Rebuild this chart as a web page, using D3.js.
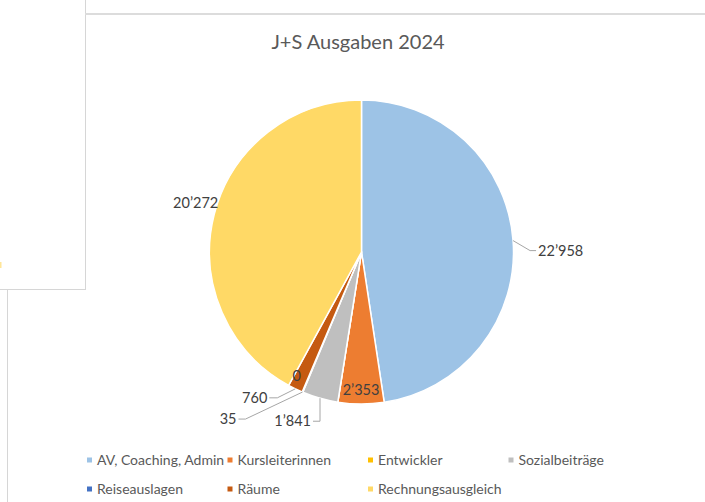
<!DOCTYPE html>
<html>
<head>
<meta charset="utf-8">
<script src="https://cdn.jsdelivr.net/npm/d3@7"></script>
<style>
  body { margin: 0; background: #fff; }
  svg { display: block; font-family: Lato, "Liberation Sans", sans-serif; }
</style>
</head>
<body>
<svg id="chart" width="705" height="502"></svg>
<script>
// chart data
var categories = ["AV, Coaching, Admin", "Kursleiterinnen", "Entwickler", "Sozialbeiträge",
                  "Reiseauslagen", "Räume", "Rechnungsausgleich"];
var values = [22958, 2353, 0, 1841, 35, 760, 20272];
var colors = ["#9DC3E6", "#ED7D31", "#FFC000", "#BFBFBF", "#4472C4", "#C55A11", "#FFD966"];
var title = "J+S Ausgaben 2024";

// where each data label goes, relative to the slice's outer mid point
var labelPlacement = [
    {leader: true, ex: 17, ey: 10, hx: 6},
    {inside: 0.91},
    {dx: -41, dy: -26},
    {leader: true, ex: 0, ey: 23, hx: -7},
    {leader: true, ex: -57, ey: 27, hx: -7},
    {leader: true, ex: -18, ey: 9, hx: -8},
    {dx: 4, dy: -11, anchor: "end"}
];

var svg = d3.select("#chart");
var cx = 361.5, cy = 252, radius = 152;

// bits of the spreadsheet around the chart
var frame = svg.append("g").attr("stroke", "#d6d6d6").attr("fill", "none");
frame.append("line").attr("x1", 85.5).attr("y1", 0).attr("x2", 85.5).attr("y2", 290);
frame.append("line").attr("x1", 0).attr("y1", 289.5).attr("x2", 86).attr("y2", 289.5);
frame.append("line").attr("x1", 85).attr("y1", 14).attr("x2", 705).attr("y2", 14)
    .attr("stroke-width", 2).attr("stroke", "#dcdcdc");
frame.append("line").attr("x1", 7.5).attr("y1", 290).attr("x2", 7.5).attr("y2", 502);
svg.append("rect").attr("x", 0).attr("y", 262).attr("width", 1.5).attr("height", 6).attr("fill", "#ffe699");

svg.append("text")
    .attr("x", 358)
    .attr("y", 49)
    .attr("text-anchor", "middle")
    .attr("font-size", 20)
    .attr("fill", "#595959")
    .text(title);

var color = d3.scaleOrdinal().domain(categories).range(colors);
var fmt = d3.formatLocale({decimal: ".", thousands: "\u2019", grouping: [3], currency: ["", ""]}).format(",d");

var pie = d3.pie().sort(null).value(function (d) { return d.value; });
var data = categories.map(function (c, i) { return {name: c, value: values[i], place: labelPlacement[i]}; });
var arcs = pie(data);
var arc = d3.arc().innerRadius(0).outerRadius(radius);

var g = svg.append("g").attr("transform", "translate(" + cx + "," + cy + ")");

g.selectAll("path.slice")
    .data(arcs)
    .enter()
    .append("path")
    .attr("class", "slice")
    .attr("d", arc)
    .attr("fill", function (d) { return color(d.data.name); })
    .attr("stroke", "#fff")
    .attr("stroke-width", 1.5)
    .attr("stroke-linejoin", "round");

// outer point at the middle angle of a slice
function outerPoint(d, r) {
    var a = (d.startAngle + d.endAngle) / 2;
    return [Math.sin(a) * r, -Math.cos(a) * r];
}

var labels = g.append("g");
arcs.forEach(function (d) {
    var p = d.data.place;
    var o = outerPoint(d, radius);
    var tx, ty, anchor;
    if (p.inside) {
        var q = outerPoint(d, radius * p.inside);
        tx = q[0]; ty = q[1]; anchor = "middle";
    } else if (p.leader) {
        var elbow = [o[0] + p.ex, o[1] + p.ey];
        var end = [elbow[0] + p.hx, elbow[1]];
        labels.append("path")
            .attr("d", d3.line()([o, elbow, end]))
            .attr("fill", "none")
            .attr("stroke", "#a6a6a6")
            .attr("stroke-width", 1);
        tx = end[0] + (p.hx > 0 ? 2 : -2);
        ty = end[1];
        anchor = p.hx > 0 ? "start" : "end";
    } else {
        tx = o[0] + p.dx; ty = o[1] + p.dy; anchor = p.anchor || "middle";
    }
    labels.append("text")
        .attr("x", tx)
        .attr("y", ty)
        .attr("dy", "0.35em")
        .attr("text-anchor", anchor)
        .attr("font-size", 14.5)
        .attr("fill", "#404040")
        .text(fmt(d.data.value));
});

// legend, four per row
var legend = svg.append("g")
    .selectAll("g")
    .data(categories)
    .enter()
    .append("g")
    .attr("transform", function (d, i) {
        return "translate(" + (87 + (i % 4) * 140.5) + "," + (460 + Math.floor(i / 4) * 29) + ")";
    });
legend.append("rect")
    .attr("x", 0).attr("y", -2.5)
    .attr("width", 5).attr("height", 5)
    .attr("fill", function (d) { return color(d); });
legend.append("text")
    .attr("x", 10)
    .attr("dy", "0.35em")
    .attr("font-size", 14)
    .attr("fill", "#595959")
    .text(function (d) { return d; });
</script>
</body>
</html>
